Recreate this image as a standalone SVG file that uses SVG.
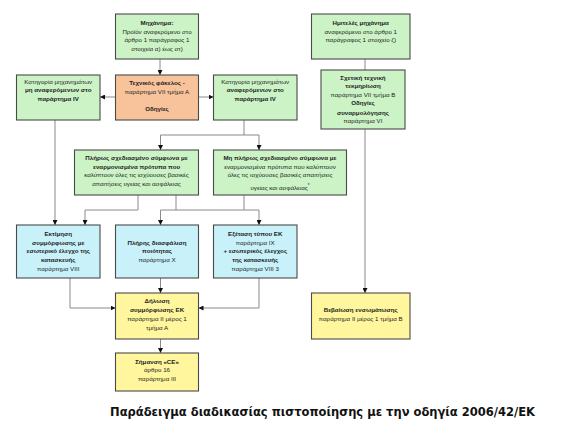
<svg xmlns="http://www.w3.org/2000/svg" width="583" height="425" viewBox="0 0 583 425">
<defs>
<marker id="ah" viewBox="0 0 6 6" refX="6" refY="3" markerWidth="5" markerHeight="5" orient="auto" markerUnits="userSpaceOnUse">
<path d="M0,0 L6,3 L0,6 Z" fill="#111"/>
</marker>
<style>
.box{stroke:#4a4a4a;stroke-width:1.1}
.g{fill:#ccf3c6}
.o{fill:#f8c39a}
.c{fill:#c8f1fa}
.y{fill:#fff69e}
text{font-family:"Liberation Sans",Arial,sans-serif;font-size:6.2px;fill:#222;text-anchor:middle}
.b{font-weight:bold}
.title{font-family:"DejaVu Sans",Verdana,sans-serif;font-size:12px;font-weight:bold;fill:#111;text-anchor:start}
#connectors path{fill:none;stroke:#8a8a8a;stroke-width:1}
.arr{marker-end:url(#ah)}
</style>
</defs>
<rect width="583" height="425" fill="#ffffff"/>
<g id="connectors">
<path class="arr" d="M160,59 V75"/>
<path class="arr" d="M115.5,97 H100"/>
<path class="arr" d="M198.5,97 H213.5"/>
<path d="M365,59 V70"/>
<path class="arr" d="M365,129 V293"/>
<path class="arr" d="M55,120 V225"/>
<path d="M244,120 V135 M160.5,135 H259"/>
<path class="arr" d="M160.5,135 V150"/>
<path class="arr" d="M259,135 V150"/>
<path class="arr" d="M138,195 V210 H85 V225"/>
<path d="M176,195 V210 M244,195 V210 M160.5,210 H259"/>
<path class="arr" d="M160.5,210 V225"/>
<path class="arr" d="M259,210 V225"/>
<path class="arr" d="M70,278 V308 H115.5"/>
<path class="arr" d="M160.5,278 V293"/>
<path class="arr" d="M259,278 V308 H198.5"/>
<path class="arr" d="M160.5,339 V353"/>
</g>
<g id="n1">
<rect class="box g" x="115.5" y="14" width="83" height="45"/>
<text x="157" y="25" class="b">Μηχάνημα:</text>
<text x="157" y="33.7">Προϊόν αναφερόμενο στο</text>
<text x="157" y="42.3">άρθρο 1 παράγραφος 1</text>
<text x="157" y="51">στοιχεία α) έως στ)</text>
</g>
<g id="n2">
<rect class="box g" x="311.5" y="14" width="98.5" height="45"/>
<text x="360.75" y="25" class="b">Ημιτελές μηχάνημα</text>
<text x="360.75" y="33.7">αναφερόμενο στο άρθρο 1</text>
<text x="360.75" y="42.3">παράγραφος 1 στοιχείο ζ)</text>
</g>
<g id="n3">
<rect class="box g" x="16.5" y="75" width="83.5" height="45"/>
<text x="58.25" y="84">Κατηγορία μηχανημάτων</text>
<text x="58.25" y="92.3" class="b">μη αναφερόμενων στο</text>
<text x="58.25" y="100.6" class="b">παράρτημα IV</text>
</g>
<g id="n4">
<rect class="box o" x="115.5" y="75" width="83" height="45"/>
<text x="157" y="84.5" class="b">Τεχνικός φάκελος -</text>
<text x="157" y="93.5">παράρτημα VII τμήμα Α</text>
<text x="157" y="111" class="b">Οδηγίες</text>
</g>
<g id="n5">
<rect class="box g" x="213.5" y="75" width="83.5" height="45"/>
<text x="255.25" y="84">Κατηγορία μηχανημάτων</text>
<text x="255.25" y="92.3" class="b">αναφερόμενων στο</text>
<text x="255.25" y="101" class="b">παράρτημα IV</text>
</g>
<g id="n6">
<rect class="box g" x="321" y="70" width="84" height="59"/>
<text x="363" y="79.5" class="b">Σχετική τεχνική</text>
<text x="363" y="88.2" class="b">τεκμηρίωση</text>
<text x="363" y="97">παράρτημα VII  τμήμα Β</text>
<text x="363" y="105.3" class="b">Οδηγίες</text>
<text x="363" y="114.5" class="b">συναρμολόγησης</text>
<text x="363" y="123.2">παράρτημα  VI</text>
</g>
<g id="n7">
<rect class="box g" x="74.5" y="150" width="124" height="45"/>
<text x="136.5" y="159.5" class="b">Πλήρως σχεδιασμένο σύμφωνα με</text>
<text x="136.5" y="168.5" class="b">εναρμονισμένα πρότυπα που</text>
<text x="136.5" y="177.2">καλύπτουν όλες τις ισχύουσες βασικές</text>
<text x="136.5" y="186.2">απαιτήσεις υγείας και ασφάλειας</text>
</g>
<g id="n8">
<rect class="box g" x="213.5" y="150" width="133" height="45"/>
<text x="280" y="159.5" class="b">Μη πλήρως σχεδιασμένο σύμφωνα με</text>
<text x="280" y="168.5">εναρμονισμένα πρότυπα που καλύπτουν</text>
<text x="280" y="177.2">όλες τις ισχύουσες βασικές απαιτήσεις</text>
<text x="280" y="190">υγείας και ασφάλειας<tspan dy="-3" font-size="4.5px">*</tspan></text>
</g>
<g id="n9">
<rect class="box c" x="16.5" y="225" width="83.5" height="53"/>
<text x="58.25" y="236.2" class="b">Εκτίμηση</text>
<text x="58.25" y="245" class="b">συμμόρφωσης με</text>
<text x="58.25" y="253.3" class="b">εσωτερικό έλεγχο της</text>
<text x="58.25" y="262" class="b">κατασκευής</text>
<text x="58.25" y="270.5">παράρτημα VIII</text>
</g>
<g id="n10">
<rect class="box c" x="115.5" y="225" width="83" height="53"/>
<text x="157" y="245" class="b">Πλήρης διασφάλιση</text>
<text x="157" y="253.3" class="b">ποιότητας</text>
<text x="157" y="262">παράρτημα X</text>
</g>
<g id="n11">
<rect class="box c" x="213.5" y="225" width="83.5" height="53"/>
<text x="255.25" y="236.2" class="b">Εξέταση τύπου ΕΚ</text>
<text x="255.25" y="245">παράρτημα IX</text>
<text x="255.25" y="253.3" class="b">+ εσωτερικός έλεγχος</text>
<text x="255.25" y="262" class="b">της κατασκευής</text>
<text x="255.25" y="270.5">παράρτημα VIII 3</text>
</g>
<g id="n12">
<rect class="box y" x="115.5" y="293" width="83" height="46"/>
<text x="157" y="303.3" class="b">Δήλωση</text>
<text x="157" y="312.3" class="b">συμμόρφωσης ΕΚ</text>
<text x="157" y="321">παράρτημα II μέρος 1</text>
<text x="157" y="329.6">τμήμα Α</text>
</g>
<g id="n13">
<rect class="box y" x="115.5" y="353" width="83" height="38"/>
<text x="157" y="364" class="b">Σήμανση «CE»</text>
<text x="157" y="372.3">άρθρο 16</text>
<text x="157" y="381.3">παράρτημα III</text>
</g>
<g id="n14">
<rect class="box y" x="311.5" y="293" width="98.5" height="46"/>
<text x="360.75" y="312.3" class="b">Βεβαίωση ενσωμάτωσης</text>
<text x="360.75" y="321">παράρτημα II μέρος 1 τμήμα Β</text>
</g>
<text class="title" x="110" y="416" textLength="425" lengthAdjust="spacingAndGlyphs">Παράδειγμα διαδικασίας πιστοποίησης με την οδηγία 2006/42/ΕΚ</text>
</svg>
